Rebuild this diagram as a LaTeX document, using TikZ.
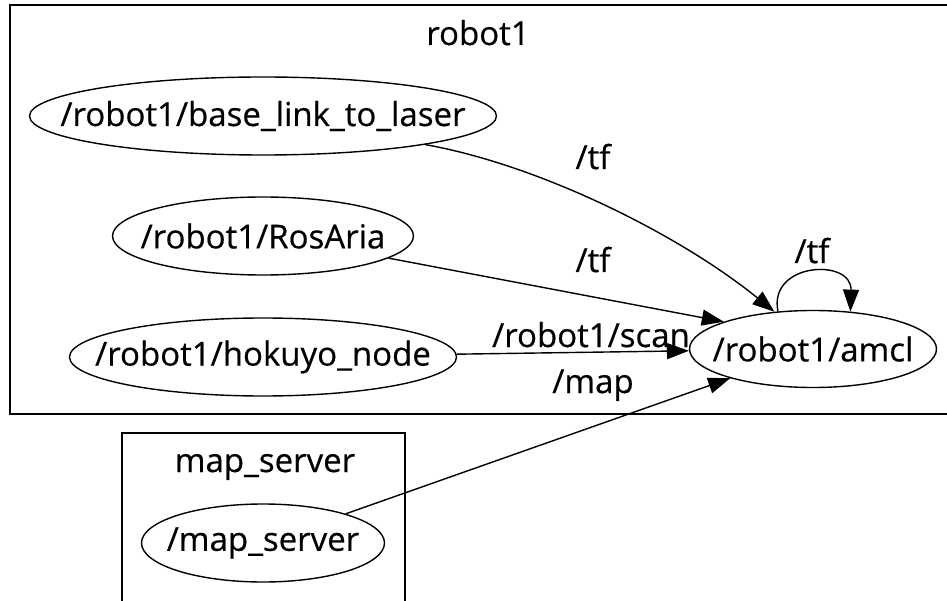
\documentclass[tikz,border=0pt]{standalone}
\usepackage{fontspec}
\setmainfont{Open Sans}
\usetikzlibrary{shapes.geometric,arrows.meta}

\begin{document}
\begin{tikzpicture}[x=1pt, y=-1pt,
  font=\fontsize{33}{38}\selectfont\addfontfeatures{FakeBold=0.5},
  rosnode/.style={ellipse, draw, line width=1.4pt, minimum height=78pt,
    inner xsep=-80pt, inner ysep=-20pt},
  topic/.style={-{Triangle[length=22pt,width=16pt]}, line width=1.4pt},
  grp/.style={draw, line width=1.5pt},
  lbl/.style={anchor=base, inner sep=0pt}]
  \useasboundingbox (0,0) rectangle (947,601);
  % clusters
  \draw[grp] (10,5) rectangle (960,414);
  \node[lbl] (robot1) at (478,45) {robot1};
  \draw[grp] (122,433) rectangle (405,605);
  \node[lbl] (mapgrp) at (265,472) {map\_server};
  % ROS nodes
  \node[rosnode, minimum width=467pt] (base) at (263,116) {/robot1/base\_link\_to\_laser};
  \node[rosnode, minimum width=301pt] (ros)  at (263,236) {/robot1/RosAria};
  \node[rosnode, minimum width=387pt] (hok)  at (263,357) {/robot1/hokuyo\_node};
  \node[rosnode, minimum width=247pt, minimum height=77pt] (amcl) at (813,349) {/robot1/amcl};
  \node[rosnode, minimum width=243pt] (mapn) at (263,543) {/map\_server};
  % topics
  \draw[topic] (base.-10) .. controls (540,165) and (680,235) .. (amcl.136);
  \draw[topic] (ros.-10) -- (amcl.163);
  \draw[topic] (hok) -- (amcl);
  \draw[topic] (mapn) -- (amcl);
  \draw[topic] (amcl.133) .. controls (768,262) and (852,258) .. (amcl.45);
  \node[lbl] (tf1) at (593,169) {/tf};
  \node[lbl] (tf2) at (593,272) {/tf};
  \node[lbl] (tf3) at (812,263) {/tf};
  \node[lbl] (scan) at (591,347) {/robot1/scan};
  \node[lbl] (map) at (593,393) {/map};
\end{tikzpicture}
\end{document}
